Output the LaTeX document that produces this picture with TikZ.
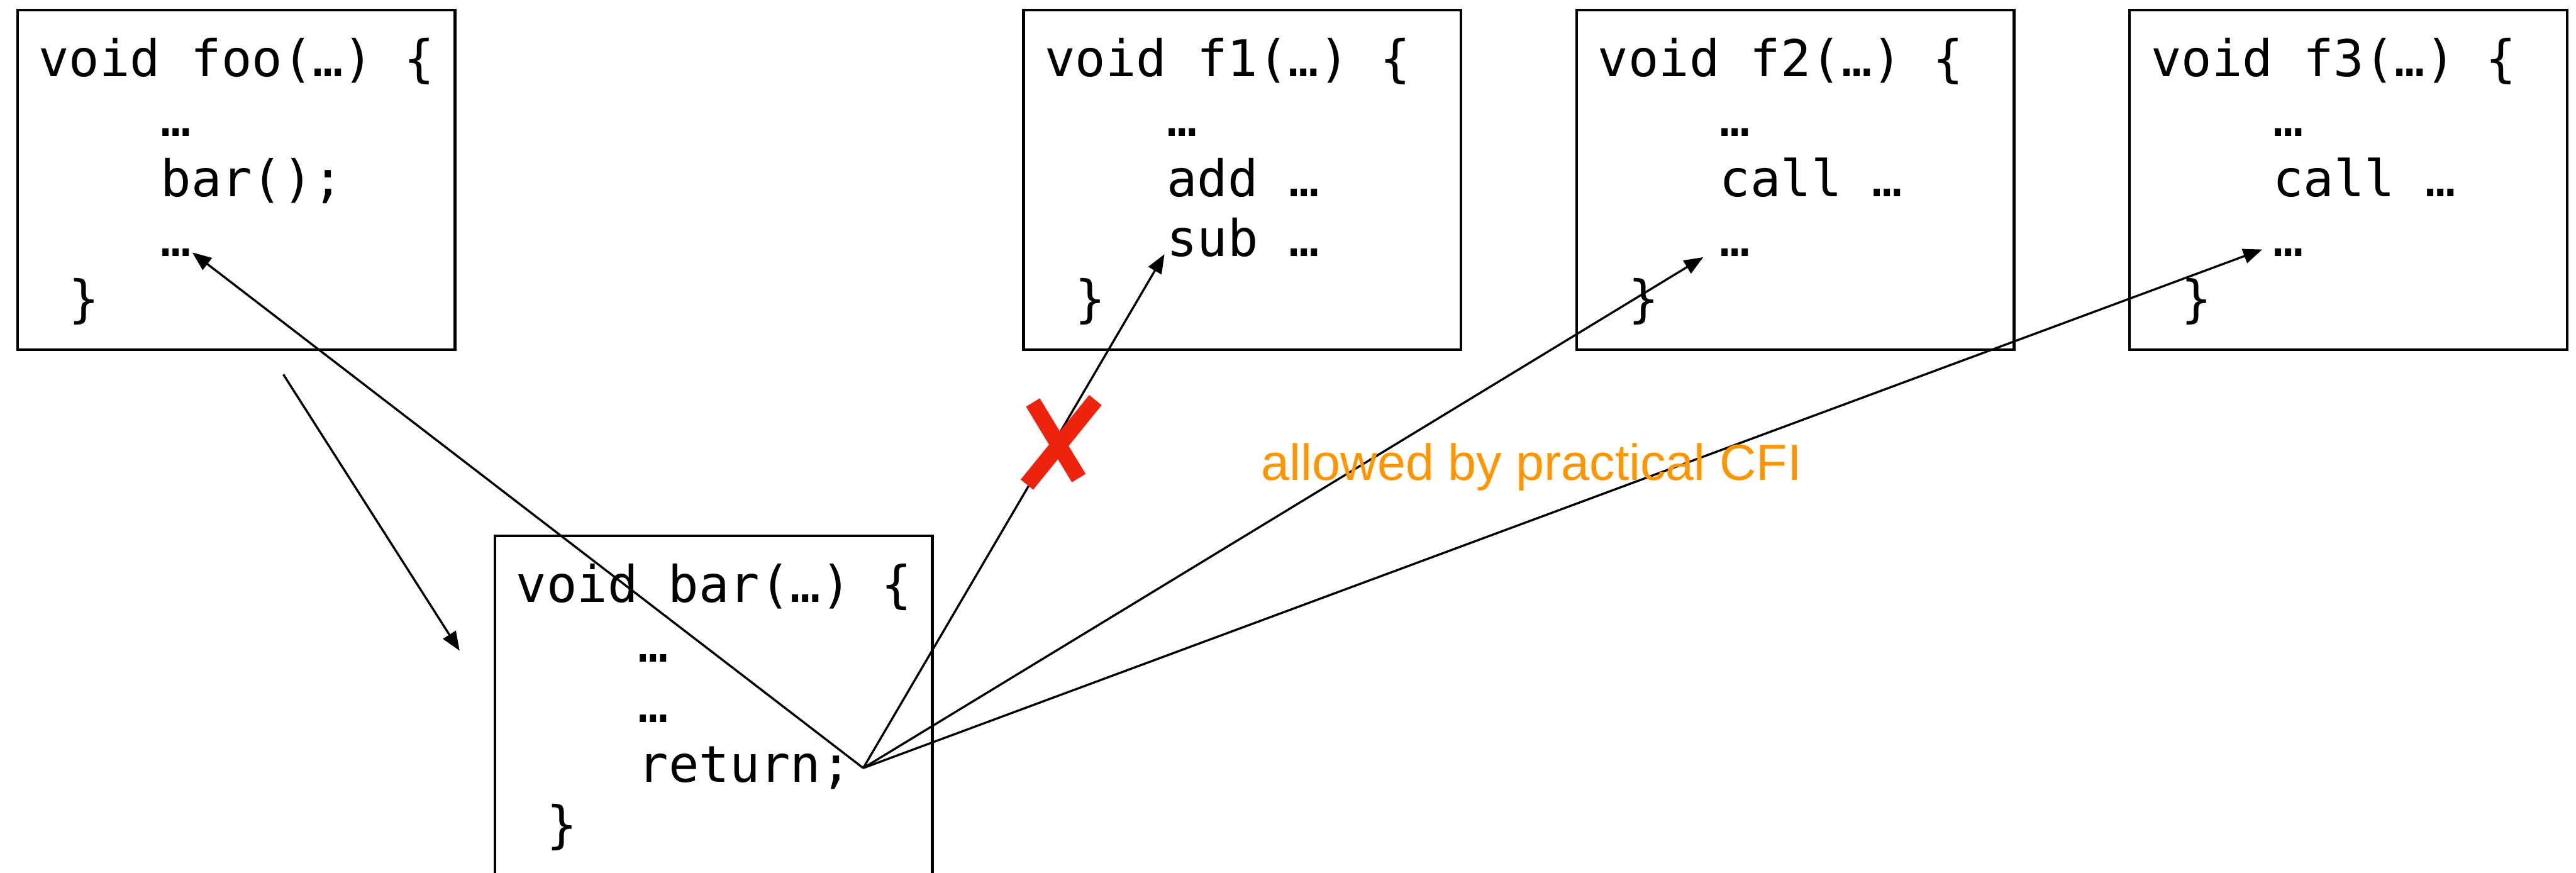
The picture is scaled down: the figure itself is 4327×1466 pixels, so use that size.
\documentclass[tikz,border=0pt]{standalone}
\usepackage{fontspec}
\newfontfamily\codefont{DejaVu Sans Mono}
\newfontfamily\labelfont{Liberation Sans}
\usetikzlibrary{arrows.meta}
\definecolor{cfiorange}{RGB}{255,149,0}
\definecolor{crossred}{RGB}{237,35,14}
\tikzset{
  fnbox/.style={draw=black, line width=0.45pt, minimum width=73.5pt, minimum height=57pt, inner sep=0pt, anchor=north west},
  fnbarbox/.style={fnbox, minimum height=62pt},
  code/.style={inner sep=0pt, anchor=base west, font=\codefont\fontsize{8.5pt}{10.1pt}\selectfont},
  conn/.style={line width=0.36pt, -{Triangle[length=3.2pt,width=2.5pt]}},
  cross/.style={line width=2.7pt, draw=crossred},
  note/.style={inner sep=0pt, anchor=base west, text=cfiorange, font=\labelfont\fontsize{8.55pt}{10pt}\selectfont}
}
\begin{document}
\begin{tikzpicture}[x=0.1pt, y=-0.1pt]
\useasboundingbox (0,0) rectangle (4327,1466);

% boxes
\node[fnbox] (foo) at (27,15) {};
\node[fnbox] (f1) at (1717,15) {};
\node[fnbox] (f2) at (2646,15) {};
\node[fnbox] (f3) at (3575,15) {};
\node[fnbarbox] (bar) at (829,898) {};

% foo text
\node[code] (foo1) at (63,128) {void foo(…) \{};
\node[code] (foo2) at (268,229) {…};
\node[code] (foo3) at (268,330) {bar();};
\node[code] (foo4) at (268,431) {…};
\node[code] (foo5) at (114,532) {\}};

% f1 text
\node[code] (fa1) at (1753,128) {void f1(…) \{};
\node[code] (fa2) at (1958,229) {…};
\node[code] (fa3) at (1958,330) {add …};
\node[code] (fa4) at (1958,431) {sub …};
\node[code] (fa5) at (1804,532) {\}};

% f2 text
\node[code] (fb1) at (2682,128) {void f2(…) \{};
\node[code] (fb2) at (2887,229) {…};
\node[code] (fb3) at (2887,330) {call …};
\node[code] (fb4) at (2887,431) {…};
\node[code] (fb5) at (2733,532) {\}};

% f3 text
\node[code] (fc1) at (3611,128) {void f3(…) \{};
\node[code] (fc2) at (3816,229) {…};
\node[code] (fc3) at (3816,330) {call …};
\node[code] (fc4) at (3816,431) {…};
\node[code] (fc5) at (3662,532) {\}};

% bar text
\node[code] (bar1) at (865,1011) {void bar(…) \{};
\node[code] (bar2) at (1070,1112) {…};
\node[code] (bar3) at (1070,1213) {…};
\node[code] (bar4) at (1070,1314) {return;};
\node[code] (bar5) at (916,1415) {\}};

% connector endpoints
\coordinate (callsrc) at (476,629);
\coordinate (calldst) at (772,1093);
\coordinate (ret) at (1450,1290);
\coordinate (tfoo) at (323,424);
\coordinate (tf1) at (1956,427);
\coordinate (tf2) at (2861,432);
\coordinate (tf3) at (3800,419);

\draw[conn] (callsrc) -- (calldst);
\draw[conn] (ret) -- (tfoo);
\draw[conn] (ret) -- (tf1);
\draw[conn] (ret) -- (tf2);
\draw[conn] (ret) -- (tf3);

% red cross
\coordinate (xa1) at (1735,676);
\coordinate (xa2) at (1812,803);
\coordinate (xb1) at (1840,672);
\coordinate (xb2) at (1725,814);
\draw[cross] (xa1) -- (xa2);
\draw[cross] (xb1) -- (xb2);

% label
\node[note] (allowed) at (2117,807) {allowed by practical CFI};
\end{tikzpicture}
\end{document}
